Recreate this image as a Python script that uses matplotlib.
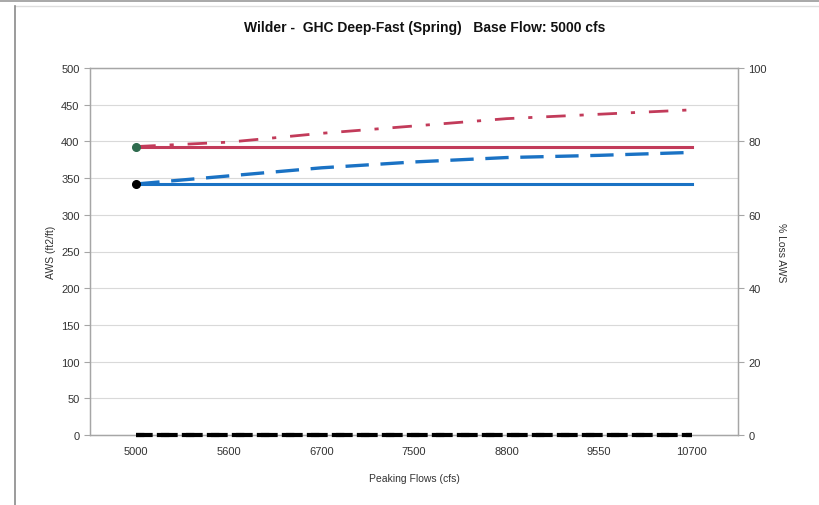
import matplotlib
matplotlib.use("Agg")
import matplotlib.pyplot as plt
from matplotlib.lines import Line2D

plt.rcParams['font.family'] = ['Liberation Sans Narrow', 'Liberation Sans', 'DejaVu Sans']

# data
flows = ['5000', '5600', '6700', '7500', '8800', '9550', '10700']
aws_red_base = [393, 393, 393, 393, 393, 393, 393]
aws_red_peak = [393, 399, 411, 421, 431, 437, 443]
aws_blue_base = [342, 342, 342, 342, 342, 342, 342]
aws_blue_peak = [342, 353, 364, 372, 378, 381, 385]
loss_a = [0, 0, 0, 0, 0, 0, 0]
loss_b = [0, 0, 0, 0, 0, 0, 0]

x = list(range(len(flows)))

fig = plt.figure(figsize=(8.2, 5.06), dpi=100)
ax = fig.add_axes([90/820, 1-436/506, (738-90)/820, (436-69)/506])
ax2 = ax.twinx()

red = '#c23b5a'
blue = '#1a72c4'

ax.plot(x, aws_red_peak, color=red, lw=2, linestyle=(0, (7, 5, 1.5, 5)))
ax.plot(x, aws_red_base, color=red, lw=2.2)
ax.plot(x, aws_blue_peak, color=blue, lw=2.4, linestyle=(0, (7, 3.5)))
ax.plot(x, aws_blue_base, color=blue, lw=2.2)
ax.plot([x[0]], [aws_red_base[0]], 'o', color='#2e6b4e', ms=5.5, zorder=5)
ax.plot([x[0]], [aws_blue_base[0]], 'o', color='black', ms=5.5, zorder=5)

ax2.plot(x, loss_a, color='black', lw=3, linestyle=(0, (4, 2)), clip_on=False, zorder=4)
ax2.plot(x, loss_b, color='black', lw=3, linestyle=(1, (3, 3)), clip_on=False, zorder=4)

ax.set_xlim(-0.5, 6.5)
ax.set_ylim(0, 500)
ax2.set_ylim(0, 100)
ax.set_xticks(x)
ax.set_xticklabels(flows)
ax.set_yticks(range(0, 501, 50))
ax2.set_yticks(range(0, 101, 20))

ax.grid(axis='y', color='#d9d9d9', lw=0.8)
ax.set_axisbelow(True)
for a in (ax, ax2):
    for s in a.spines.values():
        s.set_color('#a6a6a6')
        s.set_linewidth(0.9)
ax.tick_params(axis='x', length=0, labelsize=8, pad=8)
ax.tick_params(axis='y', length=4, labelsize=8, color='#a6a6a6')
ax2.tick_params(axis='y', length=4, labelsize=8, color='#a6a6a6')
for t in ax.get_yticklabels() + ax.get_xticklabels() + ax2.get_yticklabels():
    t.set_color('#333333')

ax.set_ylabel('AWS (ft2/ft)', fontsize=7.5, color='#333333', labelpad=4)
ax2.set_ylabel('% Loss AWS', fontsize=7.5, color='#333333', rotation=270, labelpad=14)
ax.set_xlabel('Peaking Flows (cfs)', fontsize=7.5, color='#333333', labelpad=12)

fig.text(425/820, 1-28/506, 'Wilder -  GHC Deep-Fast (Spring)   Base Flow: 5000 cfs',
         ha='center', va='center', fontsize=10, fontweight='bold', color='#111111')

# outer chart frame
fig.add_artist(Line2D([0, 1], [1-1.5/506, 1-1.5/506], color='#9a9a9a', lw=1.2))
fig.add_artist(Line2D([15/820, 1], [1-7/506, 1-7/506], color='#dddddd', lw=1))
fig.add_artist(Line2D([15/820, 15/820], [0, 1-7/506], color='#8a8a8a', lw=1.2))

fig.savefig('out.png', dpi=100)
